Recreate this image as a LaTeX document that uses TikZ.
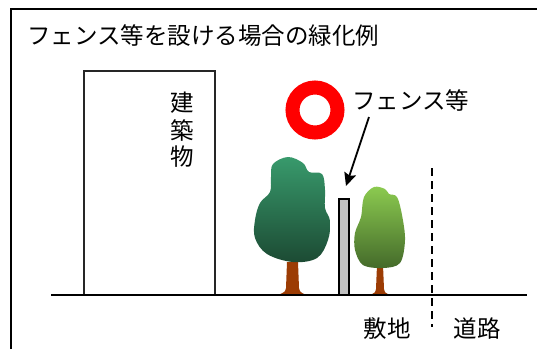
\documentclass[tikz,border=0pt]{standalone}
\usepackage{fontspec}
\setmainfont{Noto Sans CJK JP}
\usetikzlibrary{arrows.meta}
\definecolor{bigtop}{HTML}{389A6C}
\definecolor{bigbot}{HTML}{1C4A33}
\definecolor{smalltop}{HTML}{8CCB50}
\definecolor{smallbot}{HTML}{446A2A}
\definecolor{trunk}{HTML}{9C3C04}
\definecolor{fencegray}{HTML}{C0C0C0}
\tikzset{
  label/.style={inner sep=0pt, font=\fontsize{23.5}{28}\selectfont},
  outline/.style={line width=1.4pt, draw=black},
  trunkshape/.style={fill=trunk},
}
\begin{document}
\begin{tikzpicture}[x=1pt,y=-1pt]
\useasboundingbox (0,0) rectangle (537,349);
% outer frame (open to the right and bottom)
\draw[outline] (11,349) -- (11,9) -- (537,9);
% title
\node[label, anchor=west] (title) at (27,36) {フェンス等を設ける場合の緑化例};
% building
\draw[line width=1.3pt, draw=black!85] (84,295) -- (84,71) -- (215,71) -- (215,295);
\node[label] (b1) at (182,103) {建};
\node[label] (b2) at (182,130) {築};
\node[label] (b3) at (182,157) {物};
% red ring
\node[circle, draw=red, line width=14pt, minimum size=45pt, inner sep=0pt] (ring) at (315,110) {};
% fence label and arrow
\node[label, anchor=west] (fencelabel) at (352,100) {フェンス等};
\coordinate (arrowstart) at (369,117);
\coordinate (arrowtip) at (346,186);
\draw[line width=1.8pt, -{Stealth[length=13pt, width=12pt, inset=2pt]}] (arrowstart) -- (arrowtip);
% trunks
\fill[trunkshape] (287,262) -- (298,262) -- (299,288) .. controls (300,292) .. (306,295)
  -- (278,295) .. controls (285,292) .. (286,288) -- cycle;
\fill[trunkshape] (377,265) -- (383,265) -- (384,289) .. controls (385,293) .. (391,295)
  -- (369,295) .. controls (375,293) .. (376,289) -- cycle;
% canopies
\shade[top color=bigtop, bottom color=bigbot]
  plot[smooth cycle, tension=0.6] coordinates {(288,157) (303,163) (309,172) (322,174) (325,190) (325,208) (330,221) (328,240) (317,258) (293,262) (267,254) (255,238) (255,220) (260,203) (270,192) (271,177) (273,164)};
\shade[top color=smalltop, bottom color=smallbot]
  plot[smooth cycle, tension=0.55] coordinates {(374,187) (385,189) (389,194) (397,197) (402,215) (405,240) (400,263) (383,268) (363,265) (355,250) (355,233) (361,217) (364,197)};
% ground
\coordinate (groundL) at (51,295);
\coordinate (groundR) at (527,295);
\draw[line width=1.5pt] (groundL) -- (groundR);
% fence
\draw[fill=fencegray, line width=1.3pt] (339,199) rectangle (349,295);
% boundary between site and road
\coordinate (bdtop) at (432,168);
\coordinate (bdbot) at (432,327);
\draw[line width=1.3pt, dash pattern=on 8pt off 5pt] (bdtop) -- (bdbot);
\node[label] (site) at (387,329) {敷地};
\node[label] (road) at (477,329) {道路};
\end{tikzpicture}
\end{document}
